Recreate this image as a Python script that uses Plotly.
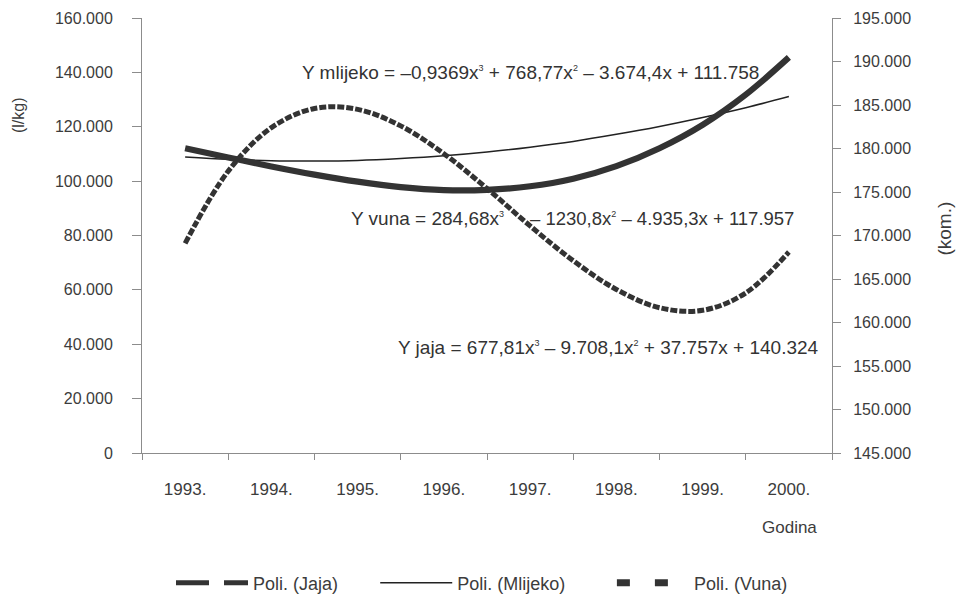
import plotly.graph_objects as go

# ---- data ----
years = [1993, 1994, 1995, 1996, 1997, 1998, 1999, 2000]
year_labels = ["1993.", "1994.", "1995.", "1996.", "1997.", "1998.", "1999.", "2000."]
x_points = [1993, 1993.5, 1994, 1994.5, 1995, 1995.5, 1996, 1996.5,
            1997, 1997.5, 1998, 1998.5, 1999, 1999.5, 2000]
jaja = [169100, 177400, 182400, 184600, 184500, 182600, 179400, 175400,
        171100, 167100, 163800, 161700, 161400, 163400, 168100]
mlijeko = [108900, 108000, 107500, 107400, 107600, 108300, 109300, 110700,
           112500, 114600, 117200, 120100, 123400, 127000, 131100]
vuna = [112100, 108700, 105400, 102400, 99800, 97800, 96700, 96800,
        98100, 100900, 105500, 112100, 120700, 131800, 145500]
boundaries = [1992.5, 1993.5, 1994.5, 1995.5, 1996.5, 1997.5, 1998.5, 1999.5, 2000.5]

S = "<sup><span style='font-size:9px'>%s</span></sup>"
eq_mlijeko = "Y mlijeko = –0,9369x" + S % "3" + " + 768,77x" + S % "2" + " – 3.674,4x + 111.758"
eq_vuna_a = "Y vuna = 284,68x" + S % "3"
eq_vuna_b = "– 1230,8x" + S % "2" + " – 4.935,3x + 117.957"
eq_jaja = "Y jaja = 677,81x" + S % "3" + " – 9.708,1x" + S % "2" + " + 37.757x + 140.324"

FONT = "Liberation Sans, Arial, sans-serif"
TXT = "#3c3c3c"
AX = "#8c8c8c"
LC = "#333333"

fig = go.Figure()

# plotted curves
fig.add_trace(go.Scatter(x=x_points, y=jaja, yaxis="y2", mode="lines", showlegend=False,
                         line=dict(color=LC, width=5, dash="7px,2px", shape="spline")))
fig.add_trace(go.Scatter(x=x_points, y=mlijeko, mode="lines", showlegend=False,
                         line=dict(color="#222222", width=1.5, shape="spline")))
fig.add_trace(go.Scatter(x=x_points, y=vuna, mode="lines", showlegend=False,
                         line=dict(color=LC, width=6.2, shape="spline")))

# legend entries
fig.add_trace(go.Scatter(x=[None], y=[None], mode="lines", name="Poli. (Jaja)", legend="legend",
                         line=dict(color=LC, width=5, dash="33px,15px")))
fig.add_trace(go.Scatter(x=[None], y=[None], mode="lines", name="Poli. (Mlijeko)", legend="legend2",
                         line=dict(color="#222222", width=1.5)))
fig.add_trace(go.Scatter(x=[None], y=[None], mode="lines", name="Poli. (Vuna)", legend="legend3",
                         line=dict(color=LC, width=7, dash="13px,25px")))

leg_common = dict(orientation="h", yanchor="middle", y=-0.299, xanchor="left",
                  font=dict(family=FONT, size=18, color=TXT), itemwidth=72,
                  bgcolor="rgba(0,0,0,0)")

fig.update_layout(
    width=957, height=594,
    margin=dict(l=142, r=125, t=18, b=141, autoexpand=False),
    paper_bgcolor="white", plot_bgcolor="white",
    separators=",.",
    font=dict(family=FONT, color=TXT),
    legend=dict(x=0.042, **leg_common),
    legend2=dict(x=0.338, **leg_common),
    legend3=dict(x=0.681, **leg_common),
    xaxis=dict(range=[1992.5, 2000.5], tickmode="array", tickvals=years, ticktext=year_labels,
               ticks="", showline=True, linecolor=AX, linewidth=1, showgrid=False, zeroline=False,
               tickfont=dict(family=FONT, size=17, color=TXT), ticklabelstandoff=21,
               automargin=False,
               minor=dict(tickmode="array", tickvals=boundaries, ticks="outside", ticklen=6,
                          tickcolor=AX, tickwidth=1, showgrid=False)),
    xaxis2=dict(overlaying="x", anchor="y", side="bottom", range=[1992.5, 2000.5],
                tickmode="array", tickvals=boundaries, ticks="inside", ticklen=8, automargin=False,
                tickcolor=AX, showticklabels=False, showline=False, showgrid=False, zeroline=False),
    yaxis=dict(range=[0, 160000], tickmode="linear", tick0=0, dtick=20000, tickformat=",.0f",
               ticks="outside", ticklen=9, tickcolor=AX, showline=True, linecolor=AX,
               showgrid=False, zeroline=False, ticklabelstandoff=16, automargin=False,
               tickfont=dict(family=FONT, size=16, color=TXT)),
    yaxis3=dict(overlaying="y", side="left", anchor="x", range=[0, 160000], tickmode="linear",
                tick0=0, dtick=20000, ticks="inside", ticklen=6, tickcolor=AX, automargin=False,
                showticklabels=False, showline=False, showgrid=False, zeroline=False),
    yaxis2=dict(overlaying="y", side="right", anchor="x", range=[145000, 195000], tickmode="linear",
                tick0=145000, dtick=5000, tickformat=",.0f", ticks="outside", ticklen=8,
                tickcolor=AX, showline=True, linecolor=AX, showgrid=False, zeroline=False,
                ticklabelstandoff=9, automargin=False,
                tickfont=dict(family=FONT, size=16, color=TXT)),
    yaxis4=dict(overlaying="y", side="right", anchor="x", range=[145000, 195000], tickmode="linear",
                tick0=145000, dtick=5000, ticks="inside", ticklen=7, tickcolor=AX, automargin=False,
                showticklabels=False, showline=False, showgrid=False, zeroline=False),
)

ann_font = dict(family=FONT, size=19, color="#333333")
fig.add_annotation(text=eq_mlijeko, xref="paper", yref="paper", x=0.563, y=0.8736,
                   xanchor="center", yanchor="middle", showarrow=False, font=ann_font)
fig.add_annotation(text=eq_vuna_a, xref="paper", yref="paper", x=0.5275, y=0.540,
                   xanchor="right", yanchor="middle", showarrow=False, font=ann_font)
fig.add_annotation(text=eq_vuna_b, xref="paper", yref="paper", x=0.560, y=0.540,
                   xanchor="left", yanchor="middle", showarrow=False,
                   font=dict(family=FONT, size=18.5, color="#333333"))
fig.add_annotation(text=eq_jaja, xref="paper", yref="paper", x=0.676, y=0.2414,
                   xanchor="center", yanchor="middle", showarrow=False, font=ann_font)

fig.add_annotation(text="(l/kg)", xref="paper", yref="paper", x=-0.1797, y=0.777,
                   textangle=-90, showarrow=False, xanchor="center", yanchor="middle",
                   font=dict(family=FONT, size=16, color=TXT))
fig.add_annotation(text="(kom.)", xref="paper", yref="paper", x=1.163, y=0.517,
                   textangle=-90, showarrow=False, xanchor="center", yanchor="middle",
                   font=dict(family=FONT, size=19, color=TXT))
fig.add_annotation(text="Godina", xref="paper", yref="paper", x=0.939, y=-0.172,
                   showarrow=False, xanchor="center", yanchor="middle",
                   font=dict(family=FONT, size=17, color=TXT))

# remove the page's default body margin so the 957x594 figure fills the window exactly
fig.write_html("out.html", config={"displayModeBar": False},
               post_script="document.body.style.margin='0';document.body.style.overflow='hidden';")
